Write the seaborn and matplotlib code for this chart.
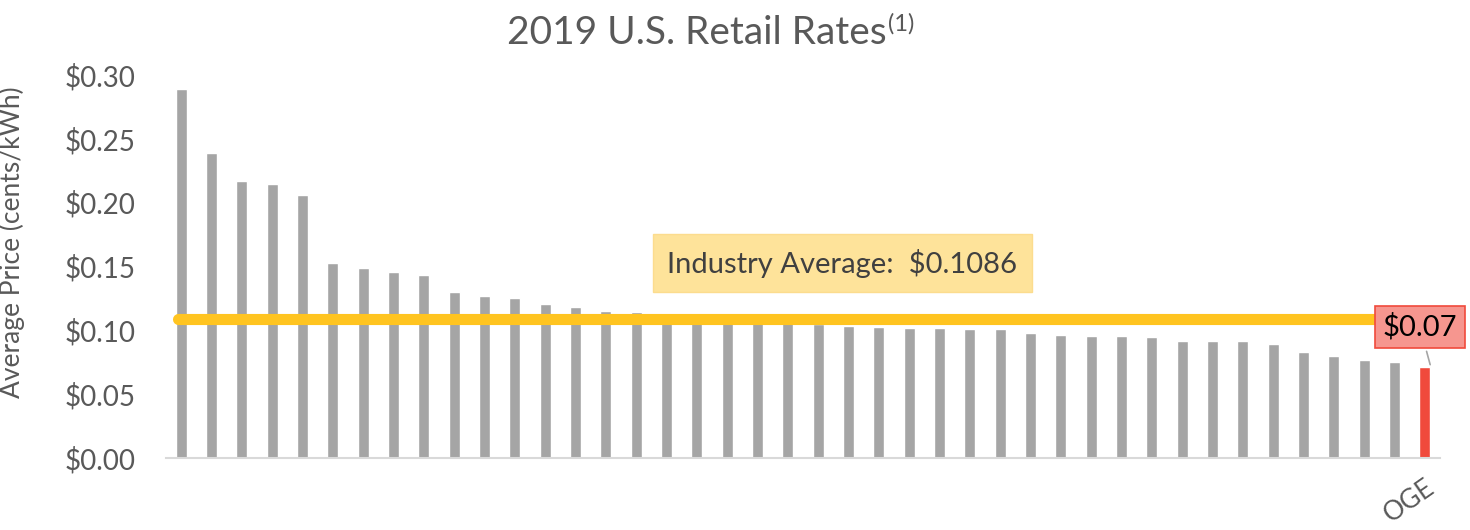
import seaborn as sns
import pandas as pd
import matplotlib.pyplot as plt
from matplotlib.ticker import FuncFormatter

# 2019 average retail rates ($/kWh), sorted high to low, OGE last
rates = [0.2887, 0.2386, 0.2169, 0.2148, 0.2059, 0.1527, 0.1488, 0.1457,
         0.1431, 0.1297, 0.1269, 0.1253, 0.1203, 0.1182, 0.1151, 0.1143,
         0.1128, 0.1110, 0.1095, 0.1080, 0.1068, 0.1052, 0.1034, 0.1028,
         0.1021, 0.1015, 0.1007, 0.1007, 0.0979, 0.0966, 0.0958, 0.0955,
         0.0945, 0.0916, 0.0914, 0.0914, 0.0893, 0.0828, 0.0796, 0.0765,
         0.0754, 0.0710]
utilities = [f"Utility {i + 1}" for i in range(41)] + ["OGE"]
groups = ["Other"] * 41 + ["OGE"]
industry_avg = 0.1086

df = pd.DataFrame({"Utility": utilities, "Rate": rates, "Group": groups})

sns.set_theme(style="white")
plt.rcParams["font.family"] = ["Lato", "DejaVu Sans"]

fig = plt.figure(figsize=(14.7, 5.3), dpi=100)
ax = fig.add_axes([166 / 1470, 1 - 458 / 530, 1274 / 1470, 383 / 530])

sns.barplot(data=df, x="Utility", y="Rate", hue="Group",
            palette={"Other": "#a5a5a5", "OGE": "#f04a3c"},
            saturation=1, width=0.37, dodge=False, legend=False, ax=ax)

ax.set_xlim(-0.5, len(rates) - 0.5)
ax.set_ylim(0, 0.30)
ax.set_yticks([0, 0.05, 0.10, 0.15, 0.20, 0.25, 0.30])
ax.yaxis.set_major_formatter(FuncFormatter(lambda v, p: f"${v:.2f}"))
ax.tick_params(axis="y", length=0, pad=22, labelsize=20, labelcolor="#595959")

# only OGE gets a category label
ax.set_xticks([len(rates) - 1])
ax.set_xticklabels(["OGE"], rotation=35, ha="right", rotation_mode="anchor",
                   fontsize=19, color="#595959")
ax.tick_params(axis="x", length=0, pad=12)
ax.set_xlabel("")

for side in ["left", "right", "top"]:
    ax.spines[side].set_visible(False)
ax.spines["bottom"].set_color("#d9d9d9")
ax.spines["bottom"].set_linewidth(1.5)

ax.set_ylabel("Average Price (cents/kWh)", fontsize=19, color="#595959")
ax.yaxis.set_label_coords(-0.111, 0.564)

# industry average line and callout
ax.plot([-0.1, 39.4], [industry_avg, industry_avg], color="#ffc420",
        linewidth=8, solid_capstyle="round", zorder=5)
ax.text(21.8, 0.1527, "Industry Average:  $0.1086", fontsize=21,
        color="#404040", ha="center", va="center", zorder=6,
        bbox=dict(boxstyle="square,pad=0.5", facecolor="#fee39a",
                  edgecolor="#fcdc8e", linewidth=1))

# OGE data label
ax.annotate("$0.07", xy=(41.2, rates[-1]), xytext=(40.84, 0.1026),
            fontsize=21, color="black", ha="center", va="center",
            annotation_clip=False, zorder=7,
            bbox=dict(boxstyle="square,pad=0.25", facecolor="#f6968f",
                      edgecolor="#f04a3c", linewidth=1.2),
            arrowprops=dict(arrowstyle="-", color="#a5a5a5", linewidth=1.2))

# title with superscript
t = fig.text(507 / 1470, 1 - 44 / 530, "2019 U.S. Retail Rates", fontsize=28,
             color="#595959", ha="left", va="baseline")
fig.canvas.draw()
bb = t.get_window_extent()
fig.text((bb.x1 + 1) / 1470, 1 - 31 / 530, "(1)", fontsize=17,
         color="#595959", ha="left", va="baseline")

plt.savefig("out.png", dpi=100)
